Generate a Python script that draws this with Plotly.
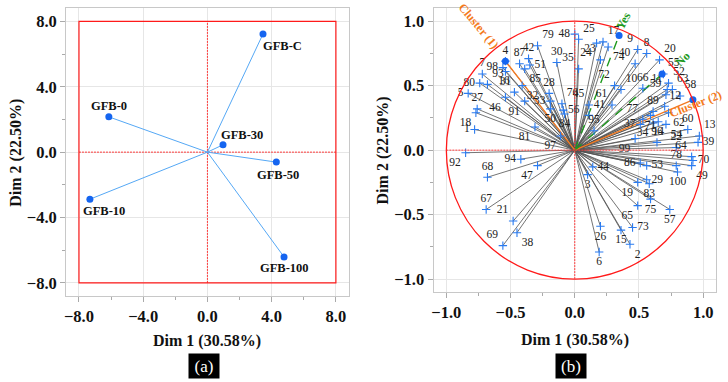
import plotly.graph_objects as go

# ---------------- Panel (a): individuals ----------------
ind_names = ["GFB-C", "GFB-0", "GFB-30", "GFB-50", "GFB-10", "GFB-100"]
ind_x = [3.46, -6.14, 0.97, 4.29, -7.32, 4.77]
ind_y = [7.23, 2.16, 0.45, -0.61, -2.88, -6.41]
ind_lab_shift = [(20, -12), (0, 11), (19, 10), (2, -13), (14, -12), (0, -11)]

# ---------------- Panel (b): variables ----------------
var_labels = [1, 2, 3, 4, 5, 6, 7, 8, 9, 10, 11, 12, 13, 14, 15, 16, 17, 18, 19, 20,
              21, 22, 23, 24, 25, 26, 27, 28, 29, 30, 31, 32, 33, 34, 35, 37, 38, 39, 40,
              41, 42, 44, 45, 46, 47, 48, 49, 50, 51, 52, 53, 54, 55, 56, 57, 58, 59, 60,
              61, 62, 63, 64, 65, 66, 67, 68, 69, 70, 71, 72, 73, 74, 75, 76, 77, 78, 79, 80,
              81, 83, 84, 85, 86, 87, 89, 91, 92, 93, 94, 95, 96, 97, 98, 99, 100]
var_x = [-0.78, 0.43, 0.10, -0.54, -0.83, 0.19, -0.72, 0.56, 0.49, 0.36, 0.72, 0.70, 0.97, 0.65, 0.36, -0.47, 0.22, -0.77, 0.49, 0.66,
         -0.48, 0.79, 0.20, 0.17, 0.03, 0.20, -0.76, -0.20, 0.56, -0.14, -0.54, -0.41, -0.19, 0.61, 0.03, 0.51, -0.45, 0.96, 0.47,
         0.11, -0.36, 0.14, 0.11, -0.54, -0.29, 0.00, 0.91, -0.19, -0.35, 0.73, 0.56, 0.71, 0.69, -0.09, 0.74, 0.82, 0.71, 0.88,
         0.29, 0.73, 0.76, 0.91, 0.49, 0.53, -0.69, -0.68, -0.56, 0.92, 0.59, 0.31, 0.45, 0.26, 0.59, -0.10, 0.53, 0.79, -0.29, -0.74,
         -0.31, 0.58, -0.08, -0.39, 0.51, -0.43, 0.61, -0.39, -0.85, -0.68, -0.42, 0.15, 0.64, -0.11, -0.56, 0.47, 0.80]
var_y = [0.16, -0.73, -0.19, 0.69, 0.44, -0.79, 0.59, 0.75, 0.78, 0.47, 0.47, 0.34, 0.11, 0.22, -0.62, 0.45, 0.84, 0.29, -0.25, 0.70,
         -0.55, 0.02, 0.70, 0.83, 0.86, -0.59, 0.32, 0.44, -0.23, 0.68, 0.61, 0.50, 0.38, 0.21, 0.63, 0.20, -0.64, 0.06, 0.67,
         0.27, 0.71, -0.13, 0.35, 0.41, -0.12, 0.90, -0.12, 0.32, 0.66, 0.52, -0.12, 0.20, 0.59, 0.31, -0.46, 0.42, 0.43, 0.16,
         0.35, 0.29, 0.47, -0.05, -0.43, 0.48, -0.46, -0.21, -0.74, -0.08, 0.27, 0.50, -0.60, 0.80, -0.38, 0.36, 0.24, -0.12, 0.81, 0.52,
         0.18, -0.26, 0.28, 0.63, -0.10, 0.67, 0.30, 0.38, -0.02, 0.51, -0.07, 0.15, 0.06, 0.11, 0.64, 0.09, -0.17]
var_lab_pos = ["middle left", "bottom right", "bottom center", "top center", "middle left", "bottom center", "top center", "top center",
               "top left", "top right", "top left", "top right", "top right", "bottom center", "bottom center", "top left", "top right",
               "bottom left", "bottom left", "top right",
               "top left", "top center", "top left", "bottom left", "top right", "bottom center", "top center", "top center",
               "middle right", "top center", "bottom center", "bottom right", "middle left", "bottom left", "top left",
               "middle left", "bottom right", "middle right", "top left",
               "top right", "top center", "middle right", "top left", "bottom left", "bottom left", "middle left", "bottom right",
               "bottom center", "middle right", "top right", "middle right", "bottom right", "top right", "middle right",
               "bottom center", "top right", "top left", "top center",
               "top left", "bottom right", "top right", "top left", "bottom left", "top center", "top center", "top center",
               "top left", "middle right", "bottom center", "top left", "middle right", "bottom right", "bottom center",
               "top right", "top left", "top center", "top right", "middle left",
               "bottom left", "bottom center", "bottom center", "bottom right", "middle left", "top center", "top center",
               "bottom left", "bottom left", "top right", "middle left", "top center", "top center", "bottom left",
               "middle left", "bottom left", "bottom center"]

# supplementary points
sup_names = ["Cluster (1)", "Cluster (2)", "Yes", "No"]
sup_x = [-0.54, 0.92, 0.345, 0.68]
sup_y = [0.69, 0.39, 0.89, 0.59]

FONT = "Liberation Serif"
ORANGE = "#F47A20"
GREEN = "#1E9A1E"
RED = "#FF1A1A"
DOT = dict(color="#FF3A3A", width=1, dash="2px,1px")

fig = go.Figure()

# ---- panel a lines and points
lx, ly = [], []
for x, y in zip(ind_x, ind_y):
    lx += [0, x, None]
    ly += [0, y, None]
fig.add_trace(go.Scatter(x=lx, y=ly, mode="lines", line=dict(color="#55A8F5", width=1),
                         xaxis="x", yaxis="y", hoverinfo="skip"))
fig.add_trace(go.Scatter(x=ind_x, y=ind_y, mode="markers", marker=dict(color="#1565F0", size=7),
                         xaxis="x", yaxis="y"))

# ---- panel b lines
lx, ly = [], []
for x, y in zip(var_x, var_y):
    lx += [0, x, None]
    ly += [0, y, None]
fig.add_trace(go.Scatter(x=lx, y=ly, mode="lines", line=dict(color="#505050", width=0.8),
                         xaxis="x2", yaxis="y2", hoverinfo="skip"))
for i, (x, y) in enumerate(zip(sup_x, sup_y)):
    col = ORANGE if i < 2 else GREEN
    dash = "solid" if i < 2 else "dash"
    fig.add_trace(go.Scatter(x=[0, x], y=[0, y], mode="lines", line=dict(color=col, width=1.4, dash=dash),
                             xaxis="x2", yaxis="y2", hoverinfo="skip"))
fig.add_trace(go.Scatter(x=var_x, y=var_y, mode="markers+text", text=[str(v) for v in var_labels],
                         textposition=var_lab_pos,
                         textfont=dict(family=FONT, size=11.5, color="#222"),
                         marker=dict(symbol="cross-thin", size=6, line=dict(color="#2A7BF0", width=1.1)),
                         xaxis="x2", yaxis="y2", cliponaxis=False))
fig.add_trace(go.Scatter(x=sup_x, y=sup_y, mode="markers", marker=dict(color="#1565F0", size=7),
                         xaxis="x2", yaxis="y2"))

shapes = []
shapes.append(dict(type="rect", xref="x", yref="y", x0=-8, x1=8, y0=-8, y1=8,
                   line=dict(color=RED, width=1.2), layer="above"))
shapes.append(dict(type="line", xref="x", yref="y", x0=0, x1=0, y0=-8, y1=8, line=DOT, layer="between"))
shapes.append(dict(type="line", xref="x", yref="y", x0=-8, x1=8, y0=0, y1=0, line=DOT, layer="between"))
shapes.append(dict(type="circle", xref="x2", yref="y2", x0=-1, x1=1, y0=-1, y1=1,
                   line=dict(color=RED, width=1.3), layer="above"))
shapes.append(dict(type="line", xref="x2", yref="y2", x0=0, x1=0, y0=-1, y1=1, line=DOT, layer="above"))
shapes.append(dict(type="line", xref="x2", yref="y2", x0=-1, x1=1, y0=0, y1=0, line=DOT, layer="above"))

ann = []
for n, x, y, (dx, dy) in zip(ind_names, ind_x, ind_y, ind_lab_shift):
    ann.append(dict(x=x, y=y, xref="x", yref="y", text=n, showarrow=False, xshift=dx, yshift=dy,
                    font=dict(family=FONT, size=12.5, color="#111", weight="bold")))

sup_lab = [("Cluster (1)", -0.75, 0.96, 50, ORANGE),
           ("Cluster (2)", 0.94, 0.36, -21, ORANGE),
           ("Yes", 0.38, 1.0, -62, GREEN),
           ("No", 0.84, 0.71, -45, GREEN)]
for t, x, y, a, c in sup_lab:
    ann.append(dict(x=x, y=y, xref="x2", yref="y2", text=t, showarrow=False, textangle=a,
                    font=dict(family=FONT, size=12, color=c, weight="bold")))

title_font = dict(family=FONT, size=16, color="#111", weight="bold")
pa = dict(xref="paper", yref="paper", showarrow=False, xanchor="center", yanchor="middle")
ann += [
    dict(pa, x=205.8 / 728, y=1 - 340.7 / 382, text="Dim 1 (30.58%)", font=title_font),
    dict(pa, x=574.2 / 728, y=1 - 339.5 / 382, text="Dim 1 (30.58%)", font=title_font),
    dict(pa, x=13.3 / 728, y=1 - 152.5 / 382, text="Dim 2 (22.50%)", textangle=-90, font=title_font),
    dict(pa, x=381.7 / 728, y=1 - 150.8 / 382, text="Dim 2 (22.50%)", textangle=-90, font=title_font),
    dict(pa, x=202.5 / 728, y=1 - 365.5 / 382, text="(a)", bgcolor="black", width=28, height=22,
         font=dict(family=FONT, size=17, color="white")),
    dict(pa, x=571 / 728, y=1 - 365.5 / 382, text="(b)", bgcolor="black", width=28, height=22,
         font=dict(family=FONT, size=17, color="white")),
]

tick_font = dict(family=FONT, size=16.5, color="#111", weight="bold")
ax_common = dict(showline=True, mirror=True, linecolor="#C8C8C8", linewidth=1,
                 showgrid=True, gridcolor="#E6E6E6", gridwidth=1, zeroline=False,
                 ticks="outside", ticklen=5, tickcolor="#AAAAAA", tickfont=tick_font,
                 tickformat=".1f", fixedrange=True)

fig.update_layout(
    width=728, height=382, margin=dict(l=0, r=0, t=0, b=0),
    paper_bgcolor="white", plot_bgcolor="white", showlegend=False,
    xaxis=dict(ax_common, domain=[64.3 / 728, 347.7 / 728], range=[-8.8, 8.8], tick0=0, dtick=4,
               minor=dict(ticks="outside", ticklen=3, tickcolor="#AAAAAA", dtick=2, tick0=0, showgrid=False),
               anchor="y"),
    yaxis=dict(ax_common, domain=[1 - 296 / 382, 1 - 8.3 / 382], range=[-8.8, 8.8], tick0=0, dtick=4,
               minor=dict(ticks="outside", ticklen=3, tickcolor="#AAAAAA", dtick=2, tick0=0, showgrid=False),
               anchor="x"),
    xaxis2=dict(ax_common, domain=[432.7 / 728, 716 / 728], range=[-1.1, 1.1], tick0=0, dtick=0.5,
                minor=dict(ticks="outside", ticklen=3, tickcolor="#AAAAAA", dtick=0.25, tick0=0, showgrid=False),
                anchor="y2"),
    yaxis2=dict(ax_common, domain=[1 - 292 / 382, 1 - 8.3 / 382], range=[-1.1, 1.1], tick0=0, dtick=0.5,
                minor=dict(ticks="outside", ticklen=3, tickcolor="#AAAAAA", dtick=0.25, tick0=0, showgrid=False),
                anchor="x2"),
    shapes=shapes, annotations=ann,
)

fig.write_html("out.html")
